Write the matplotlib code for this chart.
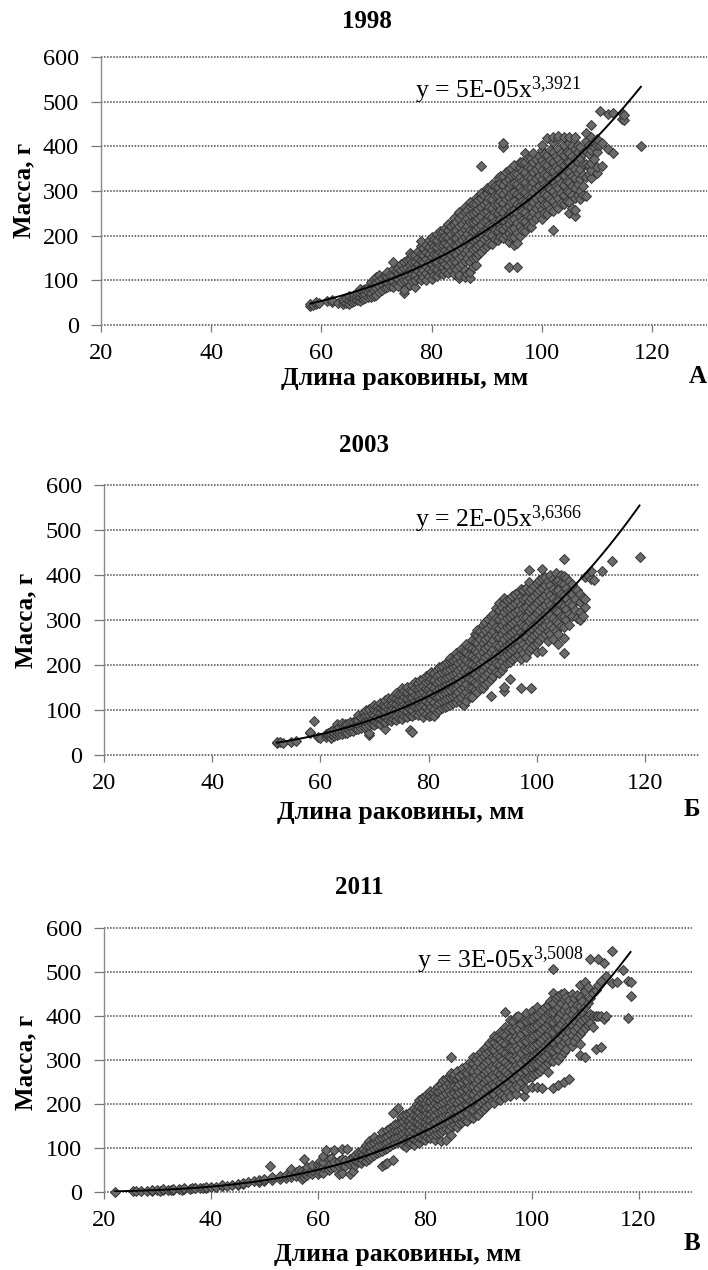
import numpy as np
import matplotlib
matplotlib.use("Agg")
import matplotlib.pyplot as plt

plt.rcParams['font.family'] = ['Liberation Serif', 'DejaVu Serif']
plt.rcParams['mathtext.default'] = 'regular'

W, H = 708, 1270

# ---------------- data ----------------
years = ["1998", "2003", "2011"]
panel_letters = ["А", "Б", "В"]
equations = [r"y = 5E-05x$^{3{,}3921}$", r"y = 2E-05x$^{3{,}6366}$", r"y = 3E-05x$^{3{,}5008}$"]
trend_a = [5e-05, 1.57e-05, 3e-05]
trend_b = [3.3921, 3.6366, 3.5008]
x_ticks = [20, 40, 60, 80, 100, 120]
y_ticks = [0, 100, 200, 300, 400, 500, 600]
x_label = "Длина раковины, мм"
y_label = "Масса, г"

# Panel A (1998): shell length columns and the masses read at each length
A_len = [58, 58.5, 59, 59.5, 61, 62, 63, 64, 64.5, 65, 65.5, 66, 66.5, 67, 67.5, 68, 68.5, 69, 69.5,
         70, 70.5, 71, 71.5, 72, 72.5, 73, 73.5, 74, 74.5, 75, 75.5, 76, 76.5, 77, 77.5, 78, 78.5,
         79, 79.5, 80, 80.5, 81, 81.5, 82, 82.5, 83, 83.5, 84, 84.5, 85, 85.5, 86, 86.5, 87, 87.5,
         88, 88.5, 89, 89.5, 90, 90.5, 91, 91.5, 92, 92.5, 93, 93.5, 94, 94.5, 95, 95.5, 96, 96.5,
         97, 97.5, 98, 98.5, 99, 99.5, 100, 100.5, 101, 101.5, 102, 102.5, 103, 103.5, 104, 104.5,
         105, 105.5, 106, 106.5, 107, 107.5, 108, 108.5, 109, 109.5, 110, 110.5, 111, 112, 113,
         114.5, 115, 118]
A_mass = [[43, 46], [45], [48, 52], [50], [54], [52, 57], [49], [46, 54, 58], [50, 61], [48, 56, 64],
          [52, 60], [53, 60, 68], [56, 64, 72], [54, 62, 72, 80], [58, 68, 78], [60, 70, 80],
          [63, 74, 86], [62, 72, 84, 96], [66, 78, 90, 104], [68, 82, 96, 108], [74, 88, 100, 112],
          [78, 92, 105], [82, 96, 110], [84, 96, 108, 118], [88, 100, 112], [86, 98, 112, 126, 140],
          [92, 106, 120], [88, 102, 116, 128], [96, 110, 124, 136], [72, 78, 100, 114, 128, 140],
          [100, 116, 130, 146], [90, 106, 120, 134, 148, 162], [98, 114, 128, 142, 156],
          [84, 100, 114, 128, 142, 156], [106, 122, 136, 150, 166], [100, 116, 130, 146, 160, 176, 188],
          [108, 124, 140, 156, 172], [100, 116, 132, 148, 164, 180], [110, 126, 142, 158, 174, 190],
          [104, 120, 136, 152, 168, 184, 198], [112, 128, 144, 160, 176, 192],
          [110, 126, 142, 158, 174, 190, 204], [116, 132, 148, 164, 180, 196, 210],
          [114, 130, 146, 162, 178, 194, 210], [120, 136, 152, 168, 184, 200, 218],
          [116, 132, 148, 164, 180, 196, 212, 226], [124, 140, 156, 172, 188, 204, 222],
          [114, 130, 146, 162, 178, 194, 210, 226, 240], [126, 142, 158, 176, 194, 212, 230],
          [106, 112, 132, 150, 168, 186, 204, 222, 240, 252], [136, 154, 172, 190, 208, 226, 246],
          [108, 124, 144, 162, 180, 198, 216, 234, 252, 264], [114, 150, 168, 186, 204, 222, 240, 258],
          [106, 118, 140, 158, 176, 194, 212, 230, 248, 266, 276], [130, 150, 170, 190, 210, 230, 250, 270],
          [134, 152, 172, 192, 212, 232, 252, 272, 284], [160, 180, 200, 220, 240, 260, 280],
          [164, 184, 204, 224, 244, 264, 284, 296, 356], [172, 192, 212, 232, 252, 272, 292],
          [176, 196, 216, 236, 256, 276, 296, 306], [184, 204, 224, 244, 264, 284, 304],
          [182, 202, 222, 242, 262, 282, 302, 316], [192, 212, 232, 252, 272, 292, 312],
          [190, 210, 230, 250, 270, 290, 310, 328], [198, 218, 238, 258, 278, 298, 318, 334],
          [194, 214, 234, 254, 274, 294, 314, 334, 398, 408], [202, 222, 242, 262, 282, 302, 322, 342],
          [130, 186, 206, 226, 246, 266, 286, 306, 326, 346], [196, 216, 236, 256, 276, 296, 316, 336, 352],
          [178, 198, 218, 238, 258, 278, 298, 318, 338, 358], [130, 184, 206, 228, 250, 272, 294, 316, 338],
          [200, 222, 244, 266, 288, 310, 332, 354, 366], [212, 234, 256, 278, 300, 322, 344, 364],
          [210, 232, 254, 276, 298, 320, 342, 364, 386], [222, 244, 266, 288, 310, 332, 354, 374],
          [220, 242, 264, 286, 308, 330, 352, 374], [232, 254, 276, 298, 320, 342, 364, 384],
          [240, 262, 284, 306, 328, 350, 372], [246, 268, 290, 312, 334, 356, 378],
          [238, 260, 282, 304, 326, 348, 370, 392, 402], [250, 272, 294, 316, 338, 360, 382],
          [248, 270, 292, 314, 336, 358, 380, 418], [260, 282, 304, 326, 348, 370, 392],
          [212, 256, 278, 300, 322, 344, 366, 388, 410, 420], [268, 290, 312, 334, 356, 378],
          [262, 284, 306, 328, 350, 372, 394, 416, 424], [274, 296, 318, 340, 362, 384],
          [270, 292, 314, 336, 358, 380, 402, 420], [278, 300, 322, 344, 366, 388],
          [250, 276, 298, 320, 342, 364, 386, 408, 422], [262, 290, 312, 334, 356, 378, 400],
          [245, 258, 284, 306, 328, 350, 372, 394, 422], [290, 316, 340, 364, 388, 404],
          [282, 300, 326, 350, 374, 398], [290, 312, 336, 360, 384], [288, 332, 360, 390, 412, 430],
          [338, 358, 382, 402], [330, 346, 362, 392, 420, 448], [372, 398, 410],
          [340, 354, 388, 404, 416], [402, 478], [356, 408], [393, 472], [386, 474],
          [462, 474], [458, 470], [400]]

# Panel B (2003)
B_len = [52, 52.5, 53, 54.5, 55.5, 58, 58.8, 59.5, 60, 61, 61.5, 62, 62.5, 63, 63.5, 64, 64.5, 65,
         65.5, 66, 66.5, 67, 67.5, 68, 68.5, 69, 69.5, 70, 70.5, 71, 71.5, 72, 72.5, 73, 73.5, 74,
         74.5, 75, 75.5, 76, 76.5, 77, 77.5, 78, 78.5, 79, 79.5, 80, 80.5, 81, 81.5, 82, 82.5, 83,
         83.5, 84, 84.5, 85, 85.5, 86, 86.5, 87, 87.5, 88, 88.5, 89, 89.5, 90, 90.5, 91, 91.5, 92,
         92.5, 93, 93.5, 94, 94.5, 95, 95.5, 96, 96.5, 97, 97.5, 98, 98.5, 99, 99.5, 100, 100.5,
         101, 101.5, 102, 102.5, 103, 103.5, 104, 104.5, 105, 105.5, 106, 106.5, 107, 107.5, 108,
         108.5, 109, 109.5, 110, 110.5, 112, 114, 119]
B_mass = [[26, 28], [30], [27], [30], [31], [48, 52], [76], [40], [38], [40, 46], [44, 50],
          [38, 46, 54], [42, 50, 58], [44, 52, 60, 70], [46, 54, 62], [46, 56, 66, 72], [50, 58, 68],
          [50, 60, 70], [54, 64, 74], [54, 64, 74], [58, 68, 78], [58, 68, 78, 88], [60, 72, 84],
          [62, 74, 86, 96], [64, 76, 88, 100], [45, 50, 66, 78, 90, 102], [68, 80, 92, 106],
          [66, 78, 90, 102, 112], [72, 84, 96, 108], [70, 82, 94, 106, 116], [76, 88, 100, 112],
          [58, 74, 86, 98, 110, 122], [78, 90, 102, 114, 126], [76, 88, 100, 112, 124],
          [80, 92, 104, 116, 130], [78, 90, 102, 114, 126, 138], [82, 94, 108, 122, 136],
          [80, 94, 108, 122, 136, 148], [86, 100, 114, 128, 142], [84, 98, 112, 126, 140, 152],
          [56, 88, 102, 116, 130, 144], [52, 86, 100, 114, 128, 142, 156], [92, 106, 120, 134, 148, 162],
          [90, 104, 118, 132, 146, 160], [96, 110, 124, 138, 152, 166], [84, 98, 112, 126, 140, 154, 168],
          [92, 106, 120, 134, 148, 162, 176], [86, 100, 116, 132, 148, 164, 178],
          [90, 106, 122, 138, 154, 170, 184], [86, 102, 118, 134, 150, 166, 182],
          [96, 112, 128, 144, 160, 176, 190], [100, 116, 132, 148, 164, 180, 196],
          [104, 120, 136, 152, 168, 184, 198], [106, 122, 138, 154, 170, 186, 202],
          [110, 126, 142, 158, 174, 190, 206], [112, 128, 144, 160, 176, 192, 208, 216],
          [116, 132, 148, 164, 180, 196, 212], [118, 134, 150, 166, 182, 198, 214, 226],
          [124, 140, 156, 172, 188, 204, 220], [116, 130, 146, 162, 178, 194, 210, 226, 236],
          [112, 136, 152, 168, 184, 200, 216, 232], [120, 140, 158, 176, 194, 212, 230, 246],
          [132, 150, 168, 186, 204, 222, 240], [130, 148, 166, 184, 202, 220, 238, 256],
          [144, 162, 180, 198, 216, 234, 252, 268], [140, 158, 176, 194, 212, 230, 248, 266, 278],
          [150, 168, 186, 204, 222, 240, 258, 276], [150, 170, 190, 210, 230, 250, 270, 290],
          [158, 178, 198, 218, 238, 258, 278, 296], [162, 182, 202, 222, 242, 262, 282, 302],
          [132, 170, 190, 210, 230, 250, 270, 290, 308], [176, 196, 216, 236, 256, 276, 296, 314],
          [184, 204, 224, 244, 264, 284, 304, 326], [182, 202, 222, 242, 262, 282, 302, 322, 338],
          [190, 210, 230, 250, 270, 290, 310, 330], [142, 152, 198, 218, 238, 258, 278, 298, 318, 338, 350],
          [204, 224, 244, 264, 284, 304, 324, 344], [170, 206, 226, 246, 266, 286, 306, 326, 346],
          [214, 234, 254, 274, 294, 314, 334, 354], [218, 238, 258, 278, 298, 318, 338, 358],
          [222, 242, 262, 282, 302, 322, 342, 362], [148, 214, 234, 254, 274, 294, 314, 334, 354, 368],
          [226, 246, 266, 286, 306, 326, 346, 366], [218, 240, 262, 284, 306, 328, 350, 372],
          [232, 254, 276, 298, 320, 342, 364, 384, 412], [150, 238, 260, 282, 304, 326, 348, 370],
          [244, 266, 288, 310, 332, 354, 376], [228, 250, 272, 294, 316, 338, 360, 382],
          [256, 278, 300, 322, 344, 366, 388], [232, 262, 284, 306, 328, 350, 372, 394, 414],
          [268, 290, 312, 334, 356, 378, 396], [254, 276, 298, 320, 342, 364, 386],
          [268, 290, 312, 334, 356, 378, 400], [258, 282, 304, 326, 348, 370, 392],
          [276, 298, 320, 342, 364, 386, 404], [246, 270, 294, 318, 342, 366, 390],
          [286, 310, 334, 358, 382, 400], [226, 260, 284, 308, 332, 356, 380, 398, 435],
          [300, 324, 348, 372, 394], [290, 314, 338, 362, 386], [310, 334, 358, 380],
          [322, 346, 370], [304, 366], [300, 318, 340, 358], [310, 350], [330, 346, 396], [400],
          [392, 408], [388], [410], [432], [440]]

# Panel C (2011)
C_len = [22, 25.5, 26, 27, 28, 29, 30, 30.5, 31, 32, 32.5, 33, 34, 34.5, 35, 36, 36.5, 37, 38, 38.5,
         39, 40, 41, 42, 43, 44, 45, 46, 47, 48, 49, 50, 51, 51.5, 53, 54, 55, 56, 56.5, 57, 57.5,
         58, 59, 60, 60.5, 61, 61.5, 62, 62.5, 63, 64, 64.5, 65, 65.5, 66, 66.5, 67, 67.5, 68, 68.5,
         69, 69.5, 70, 70.5, 71, 71.5, 72, 72.5, 73, 73.5, 74, 74.5, 75, 75.5, 76, 76.5, 77, 77.5,
         78, 78.5, 79, 79.5, 80, 80.5, 81, 81.5, 82, 82.5, 83, 83.5, 84, 84.5, 85, 85.5, 86, 86.5,
         87, 87.5, 88, 88.5, 89, 89.5, 90, 90.5, 91, 91.5, 92, 92.5, 93, 93.5, 94, 94.5, 95, 95.5,
         96, 96.5, 97, 97.5, 98, 98.5, 99, 99.5, 100, 100.5, 101, 101.5, 102, 102.5, 103, 103.5,
         104, 104.5, 105, 105.5, 106, 106.5, 107, 107.5, 108, 108.5, 109, 109.5, 110, 110.5, 111,
         111.5, 112, 112.5, 113, 113.5, 114, 115, 116, 117, 118, 118.5]
C_mass = [[1], [3], [2], [3], [3], [3, 5], [4], [3], [4, 6], [4], [5], [5, 7], [6], [5], [6, 8], [7],
          [8], [8, 10], [9], [8], [10, 12], [11], [12], [13, 15], [14], [16], [17, 19], [18, 20], [22],
          [24], [22, 28], [24, 30], [58], [27, 33], [30, 36], [32, 38], [34, 42, 52], [36, 46],
          [42, 50], [30, 40, 48], [34, 44, 75], [38, 48, 56], [40, 50, 62], [42, 52, 64],
          [46, 58, 70], [44, 56, 68, 82], [96], [50, 62, 74], [54, 66, 78], [56, 68, 96], [40, 58, 70],
          [44, 62, 74, 98], [60, 72], [98], [40, 64, 76], [48, 66, 80], [62, 72, 84], [68, 80, 92],
          [66, 78, 90], [72, 86, 98], [70, 82, 94, 106], [76, 90, 104, 116], [80, 94, 108],
          [84, 98, 112, 124], [88, 102, 116], [92, 106, 120], [60, 94, 108, 122, 136],
          [64, 98, 112, 126], [66, 100, 114, 128, 142], [104, 118, 132, 146],
          [72, 108, 122, 136, 150, 180], [112, 126, 140, 154], [114, 128, 142, 156, 190],
          [116, 130, 144, 158, 170], [106, 120, 134, 148, 162, 176], [102, 124, 138, 152, 166, 178],
          [108, 122, 136, 150, 164, 180], [112, 126, 140, 154, 168, 184],
          [106, 120, 134, 148, 162, 176, 192], [116, 130, 144, 158, 172, 186, 200],
          [112, 126, 140, 154, 168, 182, 196, 210], [120, 134, 148, 162, 176, 190, 204, 214],
          [118, 132, 146, 160, 174, 188, 202, 218], [124, 138, 152, 166, 180, 194, 208, 222],
          [122, 136, 150, 164, 178, 192, 206, 220, 230], [128, 142, 156, 170, 184, 198, 212, 228],
          [118, 132, 146, 160, 174, 188, 202, 216, 232], [134, 150, 166, 182, 198, 214, 230, 240],
          [116, 136, 152, 168, 184, 200, 216, 232, 246], [140, 156, 172, 188, 204, 220, 236, 255],
          [118, 144, 160, 176, 192, 208, 224, 240, 256], [140, 158, 176, 194, 212, 230, 248, 262],
          [130, 150, 168, 186, 204, 222, 240, 258, 270, 307], [152, 170, 188, 206, 224, 242, 260, 268],
          [148, 166, 184, 202, 220, 238, 256, 274], [156, 174, 192, 210, 228, 246, 261, 264],
          [160, 178, 196, 214, 232, 250, 268, 282], [164, 182, 200, 218, 236, 254, 272],
          [162, 180, 198, 216, 234, 252, 270, 288], [170, 188, 206, 224, 242, 260, 278, 296],
          [168, 186, 204, 222, 240, 258, 276, 294, 306], [176, 194, 212, 230, 248, 266, 284, 302],
          [176, 196, 216, 236, 256, 276, 296, 312], [184, 204, 224, 244, 264, 284, 304, 318],
          [188, 208, 228, 248, 268, 288, 308, 324], [196, 216, 236, 256, 276, 296, 316, 330],
          [200, 220, 240, 260, 280, 300, 320, 338], [206, 226, 246, 266, 286, 306, 326, 346],
          [202, 222, 242, 262, 282, 302, 322, 342, 354], [212, 232, 252, 272, 292, 312, 332, 352],
          [208, 228, 248, 268, 288, 308, 328, 348, 364], [220, 240, 260, 280, 300, 320, 340, 360],
          [216, 236, 256, 276, 296, 316, 336, 356, 376, 408], [228, 248, 268, 288, 308, 328, 348, 368],
          [218, 240, 262, 284, 306, 328, 350, 372, 392], [236, 258, 280, 302, 324, 346, 368, 388],
          [222, 244, 266, 288, 310, 332, 354, 376, 398], [238, 260, 282, 304, 326, 348, 370, 400],
          [250, 272, 294, 316, 338, 360, 382], [218, 236, 258, 280, 302, 324, 346, 368, 390],
          [233, 256, 278, 300, 322, 344, 366, 388, 406], [262, 284, 306, 328, 350, 372, 394],
          [239, 262, 284, 306, 328, 350, 372, 394, 412], [268, 290, 312, 334, 356, 378, 400],
          [239, 270, 292, 314, 336, 358, 380, 402, 420], [276, 298, 320, 342, 364, 386, 408],
          [236, 282, 304, 326, 348, 370, 392, 414], [288, 310, 332, 354, 376, 398, 420],
          [272, 294, 316, 338, 360, 382, 404, 426], [300, 322, 344, 366, 388, 410, 434],
          [236, 298, 320, 342, 364, 386, 408, 430, 452, 506], [306, 328, 350, 372, 394, 416, 440],
          [244, 300, 324, 348, 372, 396, 420, 446], [310, 334, 358, 382, 406, 430, 450],
          [250, 318, 342, 366, 390, 414, 438, 452], [326, 350, 374, 398, 422, 444],
          [256, 340, 364, 388, 412, 436], [332, 356, 380, 404, 428, 450], [344, 368, 392, 416, 440],
          [352, 376, 400, 424, 448], [312, 336, 360, 384, 400, 422, 444, 470], [366, 390, 410, 434],
          [306, 372, 396, 420, 456, 478], [380, 400, 430, 466], [384, 404, 440, 530], [376, 400, 452],
          [326, 400, 460], [400, 470, 530], [330, 400, 480], [394, 520], [400, 490], [476, 548],
          [478], [505], [395, 480], [446, 478]]

panels = [(A_len, A_mass), (B_len, B_mass), (C_len, C_mass)]

# ---------------- layout (pixel boxes: left, top, right, bottom) ----------------
boxes = [(101, 57, 707, 325), (104, 485, 699, 755), (104, 928, 692, 1192)]
title_pos = [(367, 21), (364, 445), (359, 888)]
ylabel_pos = [(24, 190), (26, 620), (26, 1062)]
xlabel_pos = [(405, 378), (401, 812), (398, 1254)]
letter_pos = [(707, 376), (700, 810), (700, 1244)]
eq_pos = [(415, 90), (415, 519), (417, 960)]


def fx(px):
    return px / W


def fy(py):
    return 1 - py / H


fig = plt.figure(figsize=(W / 100, H / 100), dpi=100)

marker_face = '#6a6a6a'
marker_edge = '#353535'
grid_color = '#4a4a4a'

for i, (lens, masses) in enumerate(panels):
    l, t, r, b = boxes[i]
    ax = fig.add_axes([fx(l), fy(b), (r - l) / W, (b - t) / H])
    xs = np.concatenate([np.full(len(m), x, dtype=float) for x, m in zip(lens, masses)])
    ys = np.concatenate([np.asarray(m, dtype=float) for m in masses])

    ax.set_xlim(20, 130)
    ax.set_ylim(0, 600)
    ax.set_xticks(x_ticks)
    ax.set_yticks(y_ticks)
    ax.tick_params(axis='both', labelsize=17.5, colors='#777777', labelcolor='black',
                   direction='out', length=5, width=0.9)
    ax.tick_params(axis='x', pad=8)
    ax.tick_params(axis='y', pad=9, length=7)

    for s in ['top', 'right', 'bottom']:
        ax.spines[s].set_visible(False)
    ax.spines['left'].set_color('#8a8a8a')
    ax.spines['left'].set_linestyle((0, (1, 1)))
    ax.spines['left'].set_linewidth(1.0)

    ax.yaxis.grid(True, color=grid_color, linestyle=(0, (1, 1)), linewidth=1.1)
    for gl in ax.get_ygridlines():
        gl.set_clip_on(False)
    ax.set_axisbelow(True)

    ax.plot(xs, ys, linestyle='none', marker='D', markersize=5.2,
            markerfacecolor=marker_face, markeredgecolor=marker_edge, markeredgewidth=0.7,
            zorder=3, clip_on=False)

    xt = np.linspace(xs.min(), xs.max(), 300)
    ax.plot(xt, trend_a[i] * xt ** trend_b[i], color='black', linewidth=1.4, zorder=4)

    fig.text(fx(eq_pos[i][0]), fy(eq_pos[i][1]), equations[i], fontsize=18.5,
             ha='left', va='center')
    fig.text(fx(title_pos[i][0]), fy(title_pos[i][1]), years[i], fontsize=18,
             fontweight='bold', ha='center', va='center')
    fig.text(fx(ylabel_pos[i][0]), fy(ylabel_pos[i][1]), y_label, fontsize=18,
             fontweight='bold', ha='center', va='center', rotation=90)
    fig.text(fx(xlabel_pos[i][0]), fy(xlabel_pos[i][1]), x_label, fontsize=18.5,
             fontweight='bold', ha='center', va='center')
    fig.text(fx(letter_pos[i][0]), fy(letter_pos[i][1]), panel_letters[i], fontsize=18,
             fontweight='bold', ha='right', va='center')

fig.savefig('out.png', dpi=100)
